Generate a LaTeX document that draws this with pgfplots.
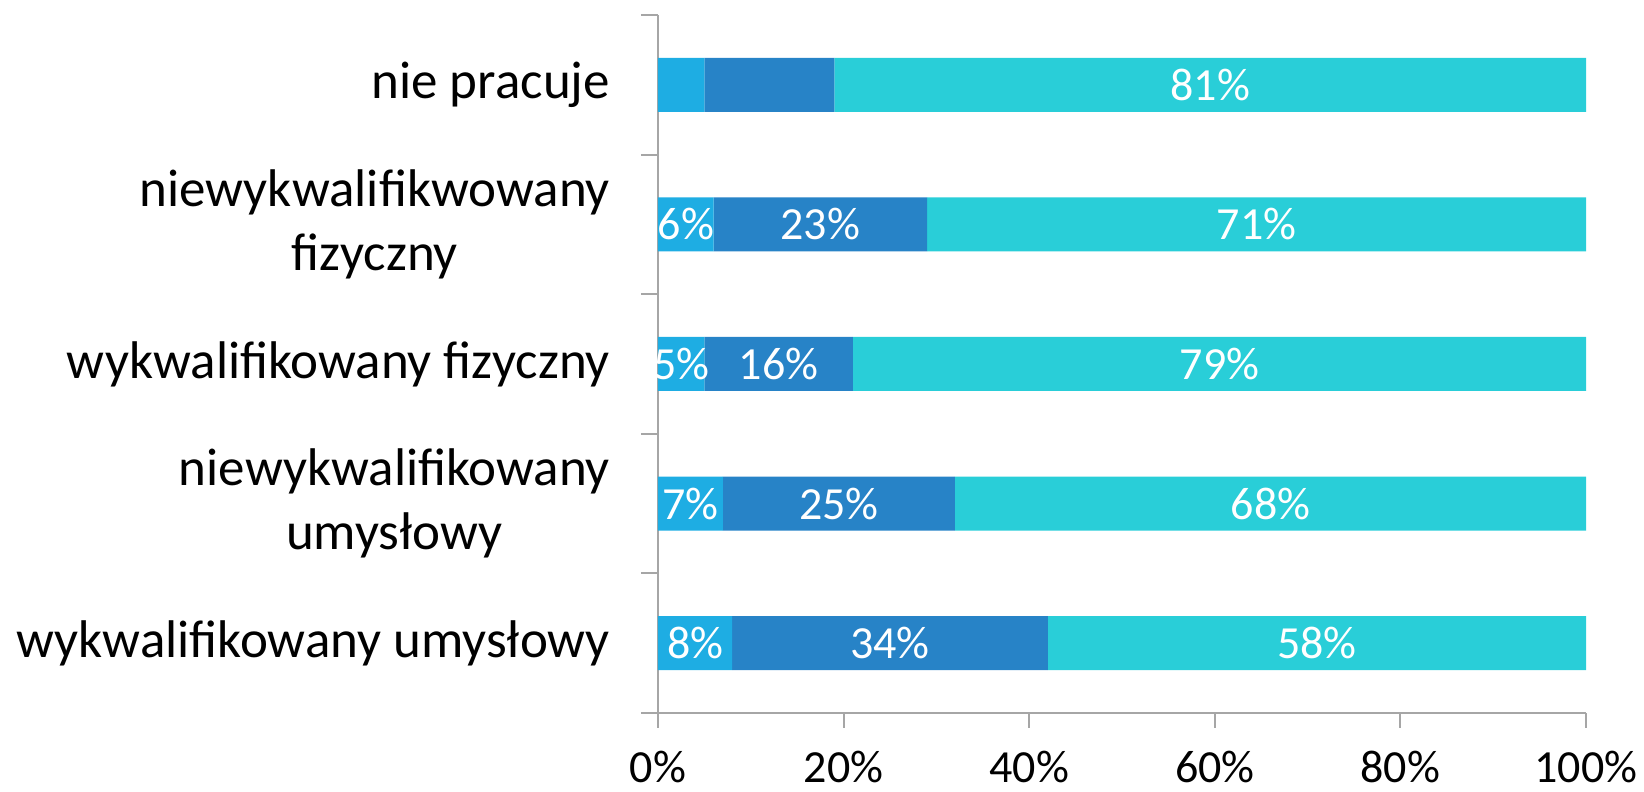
\documentclass[border=0pt]{standalone}
\usepackage{pgfplots}
\pgfplotsset{compat=1.18}
\usepackage{fontspec}
\setmainfont{Carlito}
\definecolor{c1}{HTML}{1EADE3}
\definecolor{c2}{HTML}{2783C7}
\definecolor{c3}{HTML}{29CED8}
\definecolor{axgray}{HTML}{A6A6A6}
\begin{document}
\begin{tikzpicture}
\begin{axis}[
  xbar stacked, bar width=27pt,
  scale only axis, width=464pt, height=349pt,
  xmin=0, xmax=100, ymin=-0.5, ymax=4.5,
  axis lines*=left, axis line style={axgray, line width=1pt},
  tick style={axgray, line width=1pt},
  tick align=outside,
  xtick={0,20,...,100}, xticklabels={0\%,20\%,40\%,60\%,80\%,100\%},
  ytick={0,...,4},
  yticklabels={wykwalifikowany umysłowy, {niewykwalifikowany\\umysłowy}, wykwalifikowany fizyczny, {niewykwalifikwowany\\fizyczny}, nie pracuje},
  minor ytick={-0.5,0.5,...,4.5},
  major tick length=7.5pt, minor tick length=8.5pt,
  every major y tick/.append style={draw=none},
  yticklabel style={align=center, font=\fontsize{26.5}{32}\selectfont, xshift=-13pt},
  xticklabel style={font=\fontsize{23}{28}\selectfont, yshift=-8pt},
  point meta=explicit symbolic,
  nodes near coords={\pgfplotspointmeta},
  every node near coord/.append style={white, font=\fontsize{23}{28}\selectfont, anchor=center},
]
\addplot[fill=c1, draw=none] coordinates {(8,0)[8\%] (7,1)[7\%] (5,2)[5\%] (6,3)[6\%] (5,4)[\relax]};
\addplot[fill=c2, draw=none] coordinates {(34,0)[34\%] (25,1)[25\%] (16,2)[16\%] (23,3)[23\%] (14,4)[\relax]};
\addplot[fill=c3, draw=none] coordinates {(58,0)[58\%] (68,1)[68\%] (79,2)[79\%] (71,3)[71\%] (81,4)[81\%]};
\end{axis}
\pgfresetboundingbox
\path[use as bounding box] ([xshift=-329pt,yshift=-39.5pt]current axis.south west) rectangle ([xshift=29pt,yshift=7.5pt]current axis.north east);
\end{tikzpicture}
\end{document}
